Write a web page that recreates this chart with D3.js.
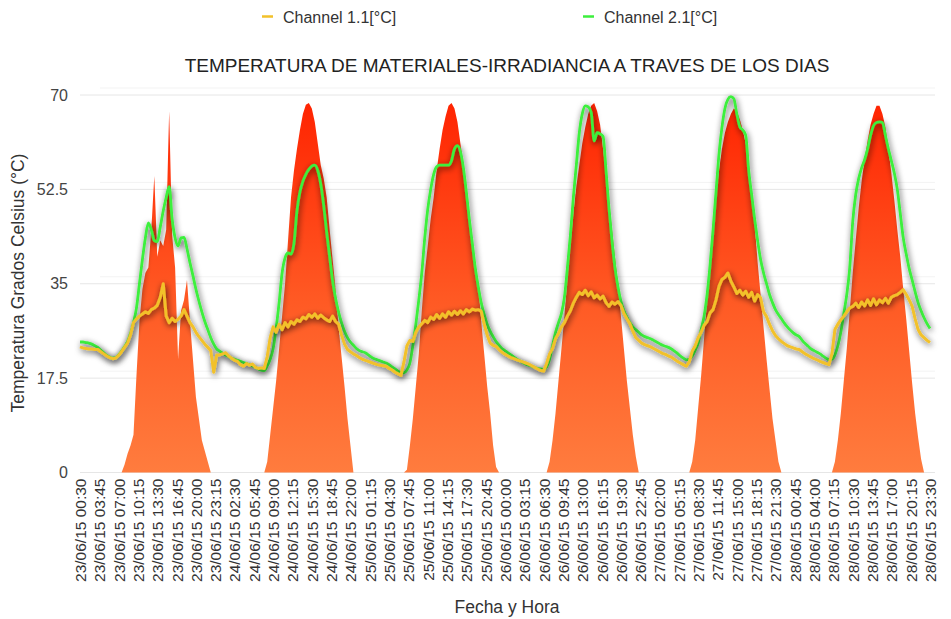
<!DOCTYPE html>
<html>
<head>
<meta charset="utf-8">
<script src="https://cdn.jsdelivr.net/npm/d3@7"></script>
<style>
  body { margin: 0; background: #fff; }
  svg { font-family: "Liberation Sans", Arial, Helvetica, sans-serif; }
</style>
</head>
<body>
<div id="chart"></div>
<script>
// x axis tick labels (every 3h15m)
const xTickLabels = [
  '23/06/15 00:30', '23/06/15 03:45', '23/06/15 07:00', '23/06/15 10:15', '23/06/15 13:30', '23/06/15 16:45', '23/06/15 20:00', '23/06/15 23:15',
  '24/06/15 02:30', '24/06/15 05:45', '24/06/15 09:00', '24/06/15 12:15', '24/06/15 15:30', '24/06/15 18:45', '24/06/15 22:00',
  '25/06/15 01:15', '25/06/15 04:30', '25/06/15 07:45', '25/06/15 11:00', '25/06/15 14:15', '25/06/15 17:30', '25/06/15 20:45',
  '26/06/15 00:00', '26/06/15 03:15', '26/06/15 06:30', '26/06/15 09:45', '26/06/15 13:00', '26/06/15 16:15', '26/06/15 19:30', '26/06/15 22:45',
  '27/06/15 02:00', '27/06/15 05:15', '27/06/15 08:30', '27/06/15 11:45', '27/06/15 15:00', '27/06/15 18:15', '27/06/15 21:30',
  '28/06/15 00:45', '28/06/15 04:00', '28/06/15 07:15', '28/06/15 10:30', '28/06/15 13:45', '28/06/15 17:00', '28/06/15 20:15', '28/06/15 23:30'
];
const yTicks = [0, 17.5, 35, 52.5, 70];

// samples every 30 min starting 23/06/15 00:30
const stepMinutes = 30;

// Channel 1.1 [°C] (yellow)
const ch1 = [
  // 23/06
  23.3, 23.1, 23.0, 22.9, 22.9, 22.8, 22.8, 22.4, 22.0, 21.6, 21.3, 21.1, 21.2, 21.7, 22.4, 23.2, 24.0, 25.5, 27.8, 28.5, 29.0, 29.4, 29.8, 29.5,
  30.2, 30.5, 31.0, 32.5, 35.0, 29.0, 27.8, 28.6, 28.0, 28.4, 29.0, 30.2, 29.0, 27.8, 27.0, 26.0, 25.2, 24.5, 23.8, 23.2, 22.6, 18.6, 21.8,
  // 24/06
  21.8, 22.0, 22.2, 21.6, 21.2, 20.8, 20.6, 20.0, 19.7, 20.2, 19.9, 20.1, 19.5, 19.3, 19.4, 19.3, 21.5, 25.0, 27.0, 26.0, 27.5, 26.5, 27.8, 27.0,
  28.0, 27.5, 28.3, 28.0, 28.8, 28.5, 29.3, 28.8, 29.4, 28.6, 29.2, 28.7, 28.3, 28.0, 29.0, 28.0, 27.5, 25.5, 23.8, 22.8, 22.4, 22.0, 21.7, 21.3,
  // 25/06
  21.0, 20.8, 20.6, 20.4, 20.2, 20.0, 19.9, 19.8, 19.7, 19.3, 19.0, 18.6, 18.3, 18.0, 20.5, 23.5, 24.5, 24.3, 26.0, 27.0, 27.6, 28.2, 27.8, 28.8,
  28.4, 29.3, 28.6, 29.4, 28.8, 29.8, 29.2, 29.9, 29.3, 30.0, 29.4, 30.2, 29.8, 30.3, 30.1, 30.2, 29.9, 27.5, 25.5, 24.0, 23.6, 23.4, 22.8, 22.3,
  // 26/06
  21.9, 21.6, 21.3, 21.1, 20.9, 20.7, 20.5, 20.3, 20.1, 19.8, 19.5, 19.2, 18.9, 18.8, 20.2, 22.0, 23.0, 24.8, 25.8, 27.0, 27.8, 29.0, 30.0, 31.4,
  32.5, 33.4, 33.0, 33.8, 32.8, 33.5, 32.4, 32.9, 32.2, 32.7, 31.5, 30.8, 31.6, 31.2, 31.7, 31.0, 29.5, 28.5, 27.6, 26.2, 25.0, 24.5, 24.0, 23.7,
  // 27/06
  23.5, 23.3, 23.0, 22.7, 22.4, 22.1, 21.9, 21.6, 21.4, 21.0, 20.6, 20.3, 20.0, 19.7, 20.5, 22.5, 23.5, 25.0, 26.0, 27.3, 28.0, 29.6, 30.2, 32.0,
  34.5, 35.8, 36.2, 37.0, 35.5, 34.4, 33.2, 33.8, 32.9, 33.6, 32.5, 33.4, 31.8, 33.0, 32.4, 29.8, 28.9, 27.5, 26.3, 25.4, 24.8, 24.3, 23.9, 23.5,
  // 28/06
  23.3, 23.1, 22.9, 22.8, 22.4, 22.0, 21.7, 21.4, 21.1, 20.9, 20.6, 20.4, 20.2, 20.0, 22.0, 26.5, 27.5, 28.3, 29.0, 29.8, 30.5, 30.8, 31.4, 30.6,
  31.6, 30.9, 32.0, 31.0, 32.2, 31.1, 32.0, 31.5, 32.3, 31.4, 32.5, 32.8, 33.0, 33.4, 33.9, 33.0, 32.0, 30.8, 28.5, 26.5, 25.5, 25.0, 24.5, 24.1
];

// Channel 2.1 [°C] (green)
const ch2 = [
  // 23/06
  24.2, 24.2, 24.1, 24.0, 23.8, 23.5, 23.2, 22.7, 22.2, 21.7, 21.4, 21.2, 21.3, 21.8, 22.5, 23.3, 24.3, 25.8, 27.8, 30.5, 35.0, 39.5, 43.5, 46.3,
  45.0, 43.0, 42.8, 45.5, 48.5, 51.0, 53.0, 47.0, 43.5, 42.0, 43.5, 43.6, 41.5, 38.9, 36.5, 34.0, 31.8, 29.8, 28.0, 26.5, 25.0, 23.8, 22.9,
  // 24/06
  22.5, 22.1, 21.8, 21.5, 21.2, 21.0, 20.8, 20.6, 20.4, 20.2, 20.0, 19.8, 19.5, 19.2, 19.0, 18.9, 19.8, 21.0, 23.0, 26.8, 31.5, 37.0, 39.8, 40.7,
  40.5, 42.5, 48.5, 52.0, 54.0, 55.3, 56.2, 56.8, 57.0, 56.0, 53.5, 49.5, 44.5, 40.0, 35.5, 32.3, 29.8, 27.8, 26.2, 25.0, 24.2, 23.6, 23.0, 22.6,
  // 25/06
  22.4, 22.2, 21.8, 21.4, 21.1, 20.9, 20.7, 20.5, 20.3, 20.0, 19.6, 19.2, 18.8, 18.5, 18.5, 19.0, 20.3, 23.5, 27.5, 32.0, 37.0, 43.5, 48.8, 52.5,
  55.3, 56.7, 57.0, 57.0, 57.0, 57.0, 57.8, 60.0, 60.6, 59.5, 56.5, 52.0, 47.0, 42.5, 38.0, 34.5, 31.5, 29.3, 27.5, 26.2, 25.2, 24.3, 23.6, 23.0,
  // 26/06
  22.6, 22.2, 21.8, 21.4, 21.0, 20.7, 20.4, 20.1, 19.9, 19.7, 19.5, 19.3, 19.2, 19.1, 19.6, 21.0, 23.5, 26.0, 27.8, 29.5, 32.5, 38.0, 44.0, 51.0,
  57.0, 63.0, 66.5, 68.0, 67.8, 66.8, 61.5, 63.0, 62.8, 62.3, 56.0, 49.0, 43.0, 38.0, 34.5, 31.8, 30.0, 28.8, 27.8, 27.0, 26.5, 26.0, 25.5, 25.2,
  // 27/06
  25.0, 24.8, 24.5, 24.2, 23.9, 23.6, 23.4, 23.2, 22.9, 22.5, 22.1, 21.6, 21.2, 20.9, 21.0, 21.6, 22.7, 24.0, 26.5, 29.0, 33.0, 38.5, 45.0, 52.0,
  59.0, 64.0, 67.5, 69.2, 69.7, 69.3, 66.5, 64.1, 63.5, 62.5, 56.0, 51.5, 47.0, 43.0, 39.5, 37.0, 35.0, 33.0, 31.5, 30.2, 29.3, 28.5, 27.7, 27.0,
  // 28/06
  26.4, 25.9, 25.5, 25.2, 24.5, 23.9, 23.4, 22.9, 22.6, 22.3, 22.0, 21.6, 21.2, 20.9, 21.0, 21.8, 23.5, 26.0, 29.5, 33.0, 38.0, 46.5, 51.5, 54.5,
  56.5, 58.0, 60.0, 62.5, 64.3, 64.9, 65.0, 64.9, 62.5, 60.0, 57.8, 55.5, 52.5, 48.0, 43.5, 40.5, 37.8, 35.7, 33.5, 31.5, 30.0, 28.7, 27.6, 26.7
];

// irradiance (filled area, same scale)
const irradiance = [
  // 23/06
  0, 0, 0, 0, 0, 0, 0, 0, 0, 0, 0, 0, 0, 0, 0, 1.5, 3.5, 5, 7, 18, 28, 34, 37, 38,
  45, 55, 40, 43, 42, 45, 67, 44, 38, 21, 30, 32, 35.7, 28, 21, 14, 10, 6, 4, 2, 0, 0, 0,
  // 24/06
  0, 0, 0, 0, 0, 0, 0, 0, 0, 0, 0, 0, 0, 0, 0, 0, 2, 7, 12, 17, 23, 29, 35, 43,
  51, 56, 60, 63.5, 66.5, 68.2, 68.5, 67.5, 65, 61, 57, 54.5, 51, 45, 39.5, 34, 27, 21.5, 16, 10, 5, 0, 0, 0,
  // 25/06
  0, 0, 0, 0, 0, 0, 0, 0, 0, 0, 0, 0, 0, 0, 0, 0.5, 5, 10, 16, 22, 30, 37, 42, 47,
  51, 56, 60, 63.5, 66, 68, 68.5, 67.5, 65, 61, 57, 53, 48, 42.5, 38, 35, 28, 22, 16, 11, 5, 1, 0, 0,
  // 26/06
  0, 0, 0, 0, 0, 0, 0, 0, 0, 0, 0, 0, 0, 0, 0, 2, 6, 11, 17, 23, 29, 36, 42, 48,
  53, 57, 61, 64, 66.5, 68, 68.5, 67, 64.5, 60, 55, 50, 45, 40, 35, 29, 23, 17, 12, 7, 3, 0, 0, 0,
  // 27/06
  0, 0, 0, 0, 0, 0, 0, 0, 0, 0, 0, 0, 0, 0, 0, 2, 6, 12, 18, 25, 32, 39, 45, 51,
  56, 60, 63, 65, 66.5, 67.5, 67, 65.5, 63.5, 61, 57, 52, 46, 39, 33, 27, 21, 15.5, 10, 6, 2, 0, 0, 0,
  // 28/06
  0, 0, 0, 0, 0, 0, 0, 0, 0, 0, 0, 0, 0, 0, 0, 2, 6, 11, 17, 23, 30, 37, 43, 49,
  54, 58, 61.5, 64.5, 66.5, 68, 68, 66.5, 64, 60, 55.5, 50.5, 45, 40, 34, 28.5, 22.5, 16.5, 11, 6.5, 2.5, 0, 0, 0
];

const w = 951;
const h = 619;

const parseTime = d3.timeParse('%d/%m/%y %H:%M');
const formatTime = d3.timeFormat('%d/%m/%y %H:%M');
const startTime = parseTime(xTickLabels[0]);
const timeAt = (i) => d3.timeMinute.offset(startTime, i * stepMinutes);

const svg = d3.select('#chart')
    .append('svg')
    .attr('width', w)
    .attr('height', h);

const xScale = d3.scaleTime()
    .domain([startTime, parseTime(xTickLabels[xTickLabels.length - 1])])
    .range([80, 930]);

const yScale = d3.scaleLinear()
    .domain([0, 70])
    .range([472.5, 95]);

const defs = svg.append('defs');

const grad = defs.append('linearGradient')
    .attr('id', 'irrGrad')
    .attr('gradientUnits', 'userSpaceOnUse')
    .attr('x1', 0).attr('x2', 0)
    .attr('y1', yScale(0)).attr('y2', yScale(70));
grad.append('stop').attr('offset', '0%').attr('stop-color', '#ff7c3e');
grad.append('stop').attr('offset', '45%').attr('stop-color', '#ff5a24');
grad.append('stop').attr('offset', '100%').attr('stop-color', '#ff2200');

const shadow = defs.append('filter')
    .attr('id', 'lineShadow')
    .attr('x', '-5%').attr('y', '-10%')
    .attr('width', '110%').attr('height', '120%');
shadow.append('feDropShadow')
    .attr('dx', 1)
    .attr('dy', 2)
    .attr('stdDeviation', 3)
    .attr('flood-color', '#000')
    .attr('flood-opacity', 0.75);

// grid
const grid = svg.append('g');
yTicks.forEach(v => {
    if (v > 0) {
        grid.append('line')
            .attr('x1', 100).attr('x2', 935)
            .attr('y1', yScale(v) - 7).attr('y2', yScale(v) - 7)
            .attr('stroke', '#f3f3f3')
            .attr('stroke-width', 1);
    }
    grid.append('line')
        .attr('x1', 80).attr('x2', 935)
        .attr('y1', yScale(v)).attr('y2', yScale(v))
        .attr('stroke', '#e6e6e6')
        .attr('stroke-width', 1);
});

// y tick labels
svg.append('g')
    .selectAll('text')
    .data(yTicks)
    .enter()
    .append('text')
    .attr('x', 68)
    .attr('y', d => yScale(d))
    .attr('dy', '0.35em')
    .attr('text-anchor', 'end')
    .attr('font-size', 16)
    .attr('fill', '#444')
    .text(d => d);

// x axis
const xAxis = d3.axisBottom(xScale)
    .tickValues(xTickLabels.map(parseTime))
    .tickFormat(formatTime)
    .tickSize(0);

const xg = svg.append('g')
    .attr('transform', 'translate(0,' + yScale(0) + ')')
    .call(xAxis);
xg.select('.domain').remove();
xg.selectAll('text')
    .attr('transform', 'rotate(-90)')
    .attr('text-anchor', 'end')
    .attr('x', -6)
    .attr('y', 0)
    .attr('dy', '0.35em')
    .attr('font-size', 15.5)
    .attr('font-family', '"Liberation Sans", Arial, sans-serif')
    .attr('fill', '#333');

// irradiance area
const area = d3.area()
    .x((d, i) => xScale(timeAt(i)))
    .y0(yScale(0))
    .y1(d => yScale(d));

svg.append('path')
    .datum(irradiance)
    .attr('d', area)
    .attr('fill', 'url(#irrGrad)');

// temperature lines
const line = d3.line()
    .x((d, i) => xScale(timeAt(i)))
    .y(d => yScale(d));

svg.append('path')
    .datum(ch2)
    .attr('d', line.curve(d3.curveMonotoneX))
    .attr('fill', 'none')
    .attr('stroke', '#3cef3c')
    .attr('stroke-width', 2.8)
    .attr('stroke-linejoin', 'round')
    .attr('filter', 'url(#lineShadow)');

svg.append('path')
    .datum(ch1)
    .attr('d', line.curve(d3.curveLinear))
    .attr('fill', 'none')
    .attr('stroke', '#f2c12a')
    .attr('stroke-width', 3)
    .attr('stroke-linejoin', 'round')
    .attr('filter', 'url(#lineShadow)');

// legend
const legendItems = [
    {text: 'Channel 1.1[°C]', color: '#f2c12a', x: 262},
    {text: 'Channel 2.1[°C]', color: '#3cef3c', x: 583}
];
legendItems.forEach(d => {
    svg.append('line')
        .attr('x1', d.x).attr('x2', d.x + 11)
        .attr('y1', 16.5).attr('y2', 16.5)
        .attr('stroke', d.color)
        .attr('stroke-width', 2.5);
    svg.append('text')
        .attr('x', d.x + 21)
        .attr('y', 22.5)
        .attr('font-size', 16)
        .attr('fill', '#333')
        .text(d.text);
});

// titles
svg.append('text')
    .attr('x', 507)
    .attr('y', 72)
    .attr('text-anchor', 'middle')
    .attr('font-size', 19)
    .attr('fill', '#222')
    .text('TEMPERATURA DE MATERIALES-IRRADIANCIA A TRAVES DE LOS DIAS');

svg.append('text')
    .attr('transform', 'translate(24,283) rotate(-90)')
    .attr('text-anchor', 'middle')
    .attr('font-size', 17.5)
    .attr('fill', '#333')
    .text('Temperatura Grados Celsius (°C)');

svg.append('text')
    .attr('x', 507)
    .attr('y', 613)
    .attr('text-anchor', 'middle')
    .attr('font-size', 17.5)
    .attr('fill', '#333')
    .text('Fecha y Hora');
</script>
</body>
</html>
